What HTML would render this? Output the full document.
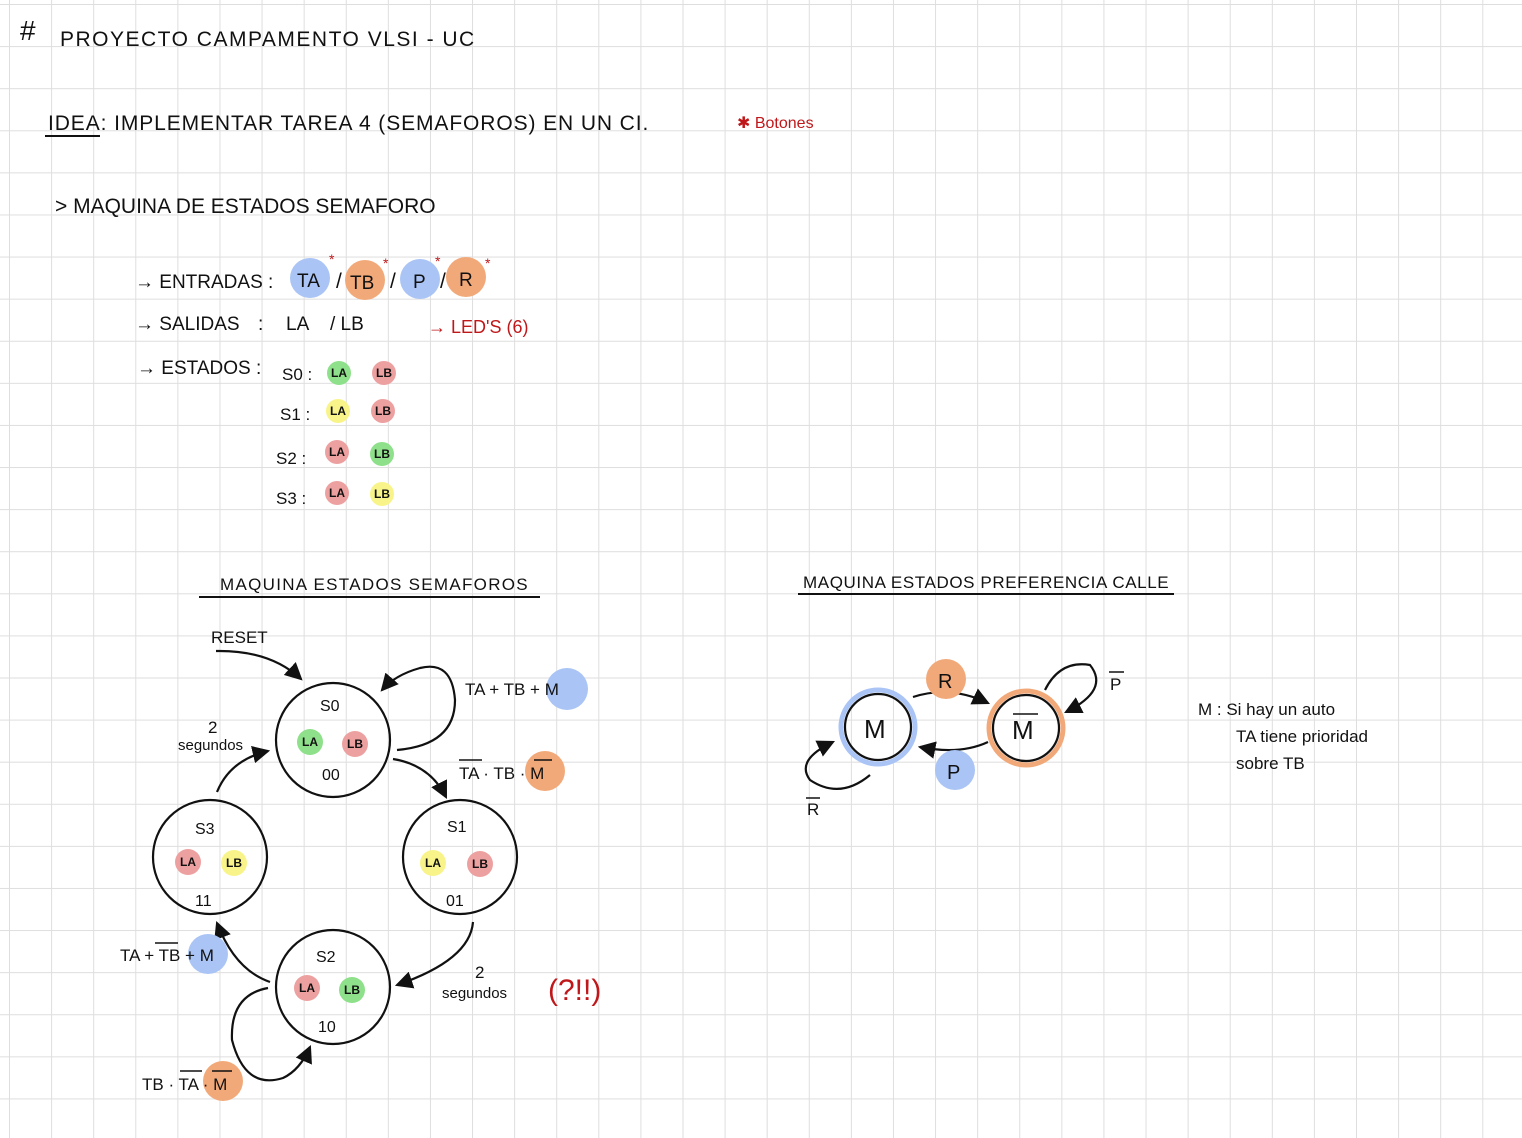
<!DOCTYPE html>
<html><head><meta charset="utf-8"><style>
html,body{margin:0;padding:0;}
body{width:1522px;height:1138px;background-color:#fff;
background-image:linear-gradient(to right,#dedede 1px,transparent 1px),linear-gradient(to bottom,#dedede 1px,transparent 1px);
background-size:42.1px 42.1px;background-position:9px 4px;overflow:hidden;}
svg{position:absolute;left:0;top:0;}
text{font-family:"Liberation Sans",sans-serif;fill:#111;}
</style></head><body>
<svg width="1522" height="1138" viewBox="0 0 1522 1138">
<defs><marker id="a" markerWidth="8" markerHeight="8" refX="7" refY="4" orient="auto"><path d="M0,0 L8,4 L0,8 z" fill="#111"/></marker></defs>
<g font-size="21">
<text x="20" y="40" font-size="28">#</text>
<text x="60" y="46" letter-spacing="1.5">PROYECTO   CAMPAMENTO   VLSI - UC</text>
<text x="48" y="130" letter-spacing="0.9">IDEA: IMPLEMENTAR   TAREA 4 (SEMAFOROS)  EN UN CI.</text>
<line x1="45" y1="136" x2="100" y2="136" stroke="#111" stroke-width="2"/>
<text x="737" y="128" font-size="16" style="fill:#c0181a">✱ Botones</text>
<text x="55" y="213">&gt; MAQUINA  DE  ESTADOS  SEMAFORO</text>
<text x="135" y="288" font-size="19">→ ENTRADAS :</text>
<circle cx="310" cy="278" r="20" fill="#a9c4f5"/><text x="297" y="287" font-size="19">TA</text>
<text x="336" y="288">/</text>
<circle cx="365" cy="280" r="20" fill="#f2a97a"/><text x="350" y="289" font-size="19">TB</text>
<text x="390" y="288">/</text>
<circle cx="420" cy="279" r="20" fill="#a9c4f5"/><text x="413" y="288" font-size="19">P</text>
<text x="440" y="288">/</text>
<circle cx="466" cy="277" r="20" fill="#f2a97a"/><text x="459" y="286" font-size="19">R</text>
<g font-size="14"><text x="329" y="264" style="fill:#c0181a">*</text><text x="383" y="268" style="fill:#c0181a">*</text><text x="435" y="266" style="fill:#c0181a">*</text><text x="485" y="268" style="fill:#c0181a">*</text></g>
<text x="135" y="330" font-size="19">→ SALIDAS</text><text x="258" y="330" font-size="19">:</text><text x="286" y="330" font-size="19">LA</text><text x="330" y="330" font-size="19">/ LB</text>
<text x="428" y="333" font-size="18" style="fill:#c0181a">→ LED'S  (6)</text>
<text x="137" y="374" font-size="19">→ ESTADOS :</text>
<g font-size="17">
<text x="282" y="380">S0 :</text><text x="280" y="420">S1 :</text><text x="276" y="464">S2 :</text><text x="276" y="504">S3 :</text>
</g>
<g font-size="12" font-weight="bold">
<circle cx="339" cy="373" r="12" fill="#8ee08a"/><text x="331" y="377">LA</text>
<circle cx="384" cy="373" r="12" fill="#eda0a0"/><text x="376" y="377">LB</text>
<circle cx="338" cy="411" r="12" fill="#f8f48a"/><text x="330" y="415">LA</text>
<circle cx="383" cy="411" r="12" fill="#eda0a0"/><text x="375" y="415">LB</text>
<circle cx="337" cy="452" r="12" fill="#eda0a0"/><text x="329" y="456">LA</text>
<circle cx="382" cy="454" r="12" fill="#8ee08a"/><text x="374" y="458">LB</text>
<circle cx="337" cy="493" r="12" fill="#eda0a0"/><text x="329" y="497">LA</text>
<circle cx="382" cy="494" r="12" fill="#f8f48a"/><text x="374" y="498">LB</text>
</g>
<text x="220" y="590" font-size="17" letter-spacing="1.3">MAQUINA  ESTADOS  SEMAFOROS</text>
<line x1="199" y1="597" x2="540" y2="597" stroke="#111" stroke-width="2"/>
<text x="803" y="588" font-size="17" letter-spacing="0.6">MAQUINA  ESTADOS  PREFERENCIA  CALLE</text>
<line x1="798" y1="594" x2="1174" y2="594" stroke="#111" stroke-width="2"/>
</g>
<g fill="none" stroke="#111" stroke-width="2.2">
<circle cx="333" cy="740" r="57"/><circle cx="460" cy="857" r="57"/>
<circle cx="210" cy="857" r="57"/><circle cx="333" cy="987" r="57"/>
<path d="M216,651 Q270,650 301,679" marker-end="url(#a)"/>
<path d="M397,750 Q455,745 455,700 Q452,660 420,668 Q395,675 382,690" marker-end="url(#a)"/>
<path d="M393,759 Q430,765 446,797" marker-end="url(#a)"/>
<path d="M473,922 Q470,960 397,985" marker-end="url(#a)"/>
<path d="M270,982 Q235,970 217,923" marker-end="url(#a)"/>
<path d="M268,988 Q230,995 232,1040 Q245,1090 283,1078 Q300,1070 310,1047" marker-end="url(#a)"/>
<path d="M217,792 Q230,760 268,751" marker-end="url(#a)"/>
<circle cx="878" cy="727" r="33" stroke="#111"/>
<circle cx="878" cy="727" r="37" stroke="#a9c4f5" stroke-width="5"/>
<circle cx="1026" cy="728" r="33" stroke="#111"/>
<circle cx="1026" cy="728" r="37" stroke="#f2a97a" stroke-width="5"/>
<path d="M913,697 Q950,685 988,703" marker-end="url(#a)"/>
<path d="M988,742 Q960,755 920,747" marker-end="url(#a)"/>
<path d="M1045,690 Q1060,660 1090,665 Q1110,690 1066,712" marker-end="url(#a)"/>
<path d="M870,775 Q840,800 810,780 Q795,760 833,742" marker-end="url(#a)"/>
</g>
<g font-size="16">
<text x="320" y="711">S0</text><text x="322" y="780">00</text>
<text x="447" y="832">S1</text><text x="446" y="906">01</text>
<text x="195" y="834">S3</text><text x="195" y="906">11</text>
<text x="316" y="962">S2</text><text x="318" y="1032">10</text>
</g>
<g font-size="12" font-weight="bold">
<circle cx="310" cy="742" r="13" fill="#8ee08a"/><text x="302" y="746">LA</text>
<circle cx="355" cy="744" r="13" fill="#eda0a0"/><text x="347" y="748">LB</text>
<circle cx="433" cy="863" r="13" fill="#f8f48a"/><text x="425" y="867">LA</text>
<circle cx="480" cy="864" r="13" fill="#eda0a0"/><text x="472" y="868">LB</text>
<circle cx="188" cy="862" r="13" fill="#eda0a0"/><text x="180" y="866">LA</text>
<circle cx="234" cy="863" r="13" fill="#f8f48a"/><text x="226" y="867">LB</text>
<circle cx="307" cy="988" r="13" fill="#eda0a0"/><text x="299" y="992">LA</text>
<circle cx="352" cy="990" r="13" fill="#8ee08a"/><text x="344" y="994">LB</text>
</g>
<g font-size="17">
<text x="211" y="643">RESET</text>
<text x="208" y="733">2</text><text x="178" y="750" font-size="15">segundos</text>
<circle cx="567" cy="689" r="21" fill="#a9c4f5"/>
<text x="465" y="695">TA + TB + M</text>
<circle cx="545" cy="771" r="20" fill="#f2a97a"/>
<text x="459" y="779">TA · TB · M</text>
<line x1="459" y1="760" x2="482" y2="760" stroke="#111" stroke-width="1.5"/><line x1="534" y1="760" x2="552" y2="760" stroke="#111" stroke-width="1.5"/>
<text x="475" y="978">2</text><text x="442" y="998" font-size="15">segundos</text>
<text x="548" y="1000" font-size="30" style="fill:#c0181a">(?!!)</text>
<circle cx="208" cy="954" r="20" fill="#a9c4f5"/>
<text x="120" y="961">TA + TB + M</text>
<line x1="155" y1="943" x2="178" y2="943" stroke="#111" stroke-width="1.5"/>
<circle cx="223" cy="1081" r="20" fill="#f2a97a"/>
<text x="142" y="1090">TB · TA · M</text>
<line x1="180" y1="1071" x2="202" y2="1071" stroke="#111" stroke-width="1.5"/><line x1="212" y1="1071" x2="232" y2="1071" stroke="#111" stroke-width="1.5"/>
<text x="864" y="738" font-size="26">M</text>
<text x="1012" y="739" font-size="26">M</text><line x1="1013" y1="714" x2="1038" y2="714" stroke="#111" stroke-width="1.5"/>
<circle cx="946" cy="679" r="20" fill="#f2a97a"/><text x="938" y="688" font-size="20">R</text>
<circle cx="955" cy="770" r="20" fill="#a9c4f5"/><text x="947" y="779" font-size="20">P</text>
<text x="1110" y="690">P</text><line x1="1109" y1="672" x2="1124" y2="672" stroke="#111" stroke-width="1.5"/>
<text x="807" y="815">R</text><line x1="806" y1="798" x2="820" y2="798" stroke="#111" stroke-width="1.5"/>
<text x="1198" y="715">M : Si hay un auto</text>
<text x="1236" y="742">TA tiene prioridad</text>
<text x="1236" y="769">sobre TB</text>
</g>
</svg>
</body></html>
